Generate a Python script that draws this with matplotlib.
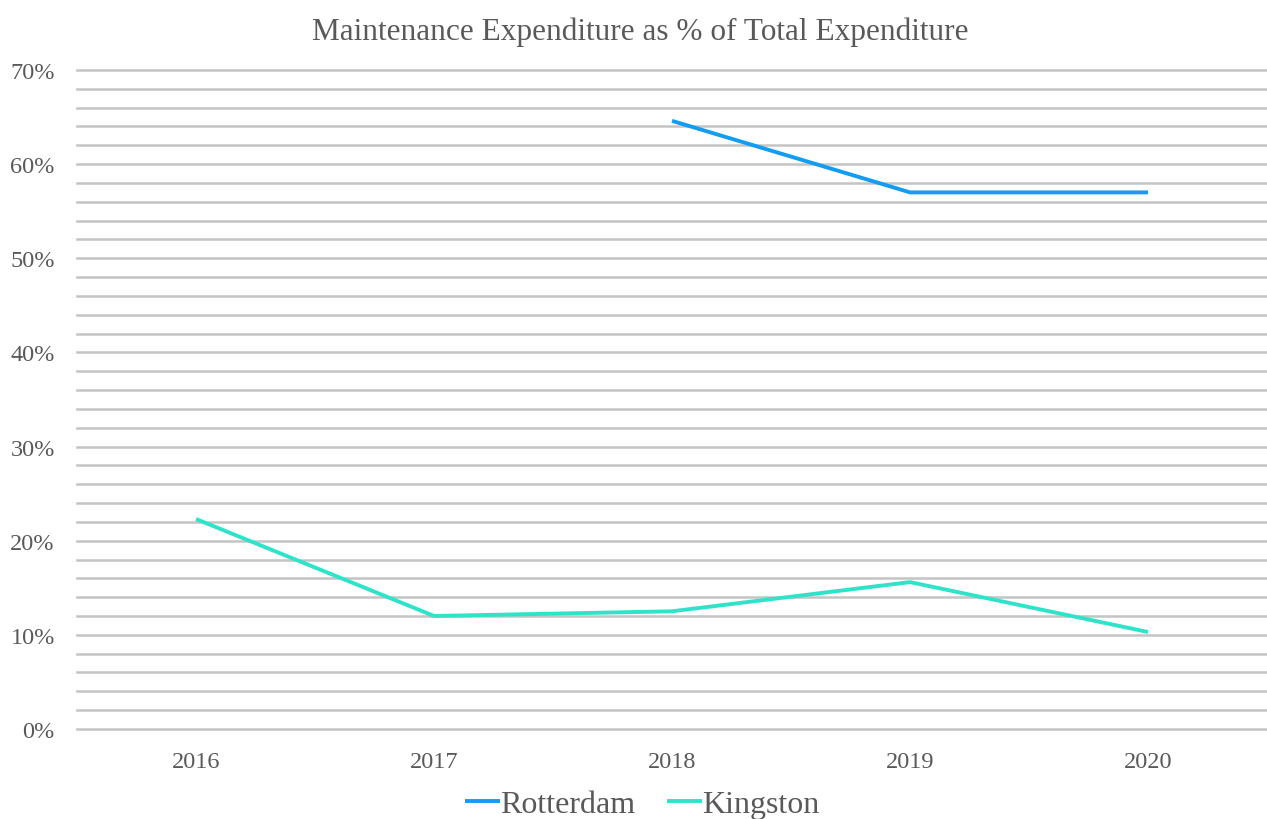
import matplotlib
matplotlib.use("Agg")
import matplotlib.pyplot as plt
import numpy as np

years = ["2016", "2017", "2018", "2019", "2020"]
rotterdam = [np.nan, np.nan, 64.6, 57.0, 57.0]
kingston = [22.3, 12.0, 12.5, 15.6, 10.3]
y_ticks = [0, 10, 20, 30, 40, 50, 60, 70]

plt.rcParams['font.family'] = ['Liberation Serif', 'DejaVu Serif']
gray = "#595959"

fig = plt.figure(figsize=(12.67, 8.2), dpi=100)
ax = fig.add_axes([0.0608, 0.1098, 0.9392, 0.8036])

x = np.arange(len(years))
ax.plot(x, rotterdam, color="#149cf0", lw=2.8, label="Rotterdam", solid_capstyle="butt")
ax.plot(x, kingston, color="#2fe3c8", lw=2.8, label="Kingston", solid_capstyle="butt")

ax.set_xlim(-0.5, len(years) - 0.5)
ax.set_ylim(0, 70)
ax.set_xticks(x)
ax.set_xticklabels(years)
ax.set_yticks(y_ticks)
ax.set_yticklabels([f"{v}%" for v in y_ticks])
ax.set_yticks(np.arange(0, 71, 2), minor=True)
ax.grid(axis="y", which="both", color="#c4c4c4", lw=1.8)
ax.set_axisbelow(True)
ax.tick_params(axis="both", which="both", length=0, labelsize=17.5, labelcolor=gray)
ax.tick_params(axis="y", pad=16)
ax.tick_params(axis="x", pad=16)
for s in ax.spines.values():
    s.set_visible(False)
for t in ax.yaxis.get_major_ticks() + ax.yaxis.get_minor_ticks():
    t.gridline.set_clip_on(False)

fig.text(0.505, 0.961, "Maintenance Expenditure as % of Total Expenditure",
         ha="center", va="center", fontsize=22.5, color=gray)

leg = fig.legend(loc="center", bbox_to_anchor=(0.507, 0.018), ncol=2, frameon=False,
                 fontsize=23, handlelength=1.1, handletextpad=0.0, columnspacing=1.0)
for t in leg.get_texts():
    t.set_color(gray)

fig.savefig("out.png", dpi=100)
